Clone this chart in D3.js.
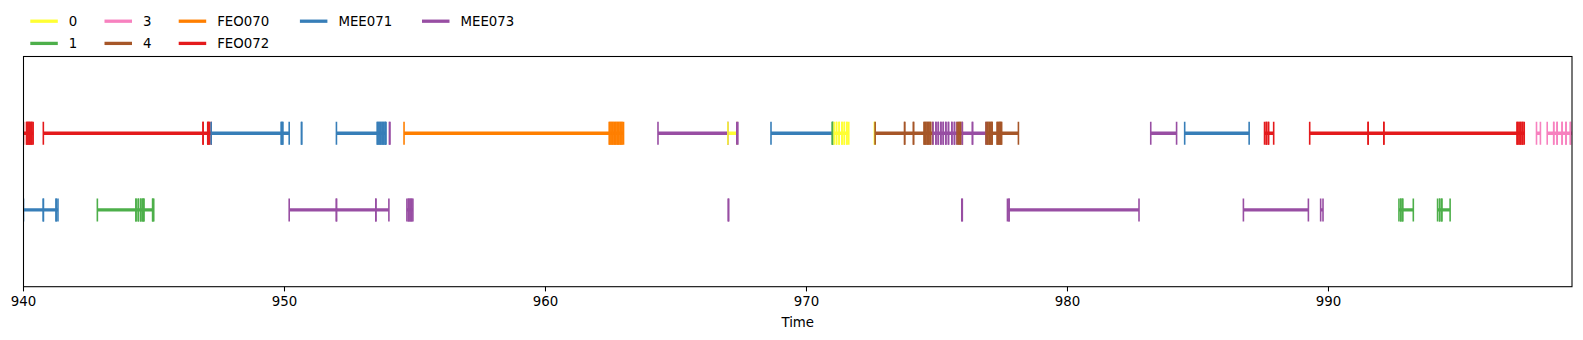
<!DOCTYPE html>
<html>
<head>
<meta charset="utf-8">
<script src="https://cdn.jsdelivr.net/npm/d3@7"></script>
<style>
  body { margin: 0; background: #fff; }
  text { font-family: "DejaVu Sans", sans-serif; fill: #000; }
</style>
</head>
<body>
<svg id="chart" width="1583" height="340"></svg>
<script>
// legend labels and their colours (Set1)
const labels = ["0", "1", "3", "4", "FEO070", "FEO072", "MEE071", "MEE073"];
const colors = ["#ffff33", "#4daf4a", "#f781bf", "#a65628", "#ff7f00", "#e41a1c", "#377eb8", "#984ea3"];

const xTicks = [940, 950, 960, 970, 980, 990];
const xDomain = [940, 999.33];

// row 1 (upper track): [start, end, label]
const topSegments = [
    [940.0, 940.12, "FEO072"], [940.12, 940.17, "FEO072"], [940.17, 940.22, "FEO072"],
    [940.22, 940.27, "FEO072"], [940.27, 940.32, "FEO072"], [940.32, 940.37, "FEO072"],
    [940.76, 946.88, "FEO072"], [946.88, 947.06, "FEO072"], [947.06, 947.11, "FEO072"],
    [947.11, 947.19, "FEO072"],
    [947.19, 949.88, "MEE071"], [949.88, 949.93, "MEE071"], [949.93, 950.18, "MEE071"],
    [950.65, 950.66, "MEE071"],
    [951.99, 953.56, "MEE071"], [953.56, 953.62, "MEE071"], [953.62, 953.68, "MEE071"],
    [953.68, 953.74, "MEE071"], [953.74, 953.8, "MEE071"], [953.8, 953.86, "MEE071"],
    [953.86, 953.89, "MEE071"],
    [954.02, 954.04, "MEE073"],
    [954.58, 962.45, "FEO070"], [962.45, 962.51, "FEO070"], [962.51, 962.57, "FEO070"],
    [962.57, 962.63, "FEO070"], [962.63, 962.69, "FEO070"], [962.69, 962.75, "FEO070"],
    [962.75, 962.81, "FEO070"], [962.81, 962.87, "FEO070"], [962.87, 962.93, "FEO070"],
    [962.93, 962.99, "FEO070"],
    [964.31, 966.99, "MEE073"],
    [966.99, 967.33, "0"],
    [967.33, 967.37, "MEE073"],
    [968.64, 971.0, "MEE071"],
    [970.99, 971.0, "1"],
    [971.06, 971.15, "0"], [971.15, 971.25, "0"], [971.25, 971.36, "0"],
    [971.36, 971.45, "0"], [971.45, 971.55, "0"], [971.55, 971.62, "0"],
    [972.6, 972.63, "0"],
    [972.63, 973.76, "4"], [973.76, 974.1, "4"], [974.1, 974.51, "4"], [974.51, 974.57, "4"],
    [974.57, 974.63, "4"], [974.63, 974.69, "4"], [974.69, 974.75, "4"], [974.75, 974.83, "4"],
    [974.85, 974.96, "MEE073"], [974.96, 975.05, "MEE073"], [975.05, 975.15, "MEE073"],
    [975.15, 975.24, "MEE073"], [975.24, 975.34, "MEE073"], [975.34, 975.44, "MEE073"],
    [975.44, 975.57, "MEE073"], [975.57, 975.67, "MEE073"], [975.67, 975.77, "MEE073"],
    [975.77, 975.84, "4"], [975.84, 975.9, "4"], [975.9, 975.97, "4"],
    [975.97, 976.36, "MEE073"], [976.36, 976.88, "MEE073"],
    [976.88, 976.94, "4"], [976.94, 977.0, "4"], [977.0, 977.06, "4"], [977.06, 977.11, "4"],
    [977.11, 977.31, "4"], [977.31, 977.37, "4"], [977.37, 977.42, "4"], [977.42, 977.47, "4"],
    [977.47, 978.12, "4"],
    [983.19, 984.18, "MEE073"],
    [984.49, 986.96, "MEE071"],
    [987.55, 987.62, "FEO072"], [987.62, 987.7, "FEO072"], [987.7, 987.9, "FEO072"],
    [989.28, 991.52, "FEO072"], [991.52, 992.12, "FEO072"], [992.12, 997.23, "FEO072"],
    [997.23, 997.3, "FEO072"], [997.3, 997.37, "FEO072"], [997.37, 997.44, "FEO072"],
    [997.44, 997.5, "FEO072"],
    [997.97, 998.12, "3"],
    [998.38, 998.63, "3"], [998.63, 998.76, "3"], [998.76, 998.95, "3"], [998.95, 999.1, "3"],
    [999.1, 999.27, "3"], [999.27, 999.5, "3"]
];

// row 0 (lower track)
const bottomSegments = [
    [940.0, 940.76, "MEE071"], [940.76, 941.25, "MEE071"], [941.25, 941.32, "MEE071"],
    [942.83, 944.31, "1"], [944.31, 944.4, "1"], [944.4, 944.49, "1"], [944.49, 944.56, "1"],
    [944.56, 944.61, "1"], [944.61, 944.95, "1"], [944.95, 944.99, "1"],
    [950.18, 951.99, "MEE073"], [951.99, 953.5, "MEE073"], [953.5, 954.0, "MEE073"],
    [954.69, 954.75, "MEE073"], [954.75, 954.81, "MEE073"], [954.81, 954.87, "MEE073"],
    [954.87, 954.92, "MEE073"],
    [967.0, 967.02, "MEE073"],
    [975.95, 975.97, "MEE073"],
    [977.7, 977.76, "MEE073"], [977.76, 982.74, "MEE073"],
    [986.74, 989.23, "MEE073"],
    [989.7, 989.79, "MEE073"],
    [992.7, 992.77, "1"], [992.77, 992.84, "1"], [992.84, 993.25, "1"],
    [994.18, 994.26, "1"], [994.26, 994.34, "1"], [994.34, 994.66, "1"]
];

const svg = d3.select("#chart");
const plotLeft = 23.5, plotRight = 1572, plotTop = 56.5, plotBottom = 286.7;

const x = d3.scaleLinear().domain(xDomain).range([plotLeft, plotRight]);
const y = d3.scaleLinear().domain([-1, 2]).range([plotBottom, plotTop]);
const color = d3.scaleOrdinal().domain(labels).range(colors);

svg.append("defs").append("clipPath").attr("id", "plotClip")
    .append("rect")
    .attr("x", plotLeft).attr("y", plotTop)
    .attr("width", plotRight - plotLeft).attr("height", plotBottom - plotTop);

const plot = svg.append("g").attr("clip-path", "url(#plotClip)");

function drawRow(segments, row) {
    const g = plot.append("g");
    g.selectAll(".seg")
        .data(segments)
        .enter()
        .append("line")
        .attr("class", "seg")
        .attr("x1", d => x(d[0]))
        .attr("x2", d => x(d[1]))
        .attr("y1", y(row))
        .attr("y2", y(row))
        .attr("stroke", d => color(d[2]))
        .attr("stroke-width", 3.3);

    // boundary marks at both ends of every segment
    const marks = [];
    segments.forEach(d => {
        marks.push([d[0], d[2]]);
        marks.push([d[1], d[2]]);
    });
    g.selectAll(".mark")
        .data(marks)
        .enter()
        .append("line")
        .attr("class", "mark")
        .attr("x1", d => x(d[0]))
        .attr("x2", d => x(d[0]))
        .attr("y1", y(row + 0.15))
        .attr("y2", y(row - 0.15))
        .attr("stroke", d => color(d[1]))
        .attr("stroke-width", 1.6);
}

drawRow(topSegments, 1);
drawRow(bottomSegments, 0);

// frame
svg.append("rect")
    .attr("x", plotLeft).attr("y", plotTop)
    .attr("width", plotRight - plotLeft).attr("height", plotBottom - plotTop)
    .attr("fill", "none")
    .attr("stroke", "#000")
    .attr("stroke-width", 1.07);

// x axis
const xAxis = svg.append("g");
xAxis.selectAll(".tick")
    .data(xTicks)
    .enter()
    .append("line")
    .attr("x1", d => x(d)).attr("x2", d => x(d))
    .attr("y1", plotBottom).attr("y2", plotBottom + 4.7)
    .attr("stroke", "#000")
    .attr("stroke-width", 1.07);

xAxis.selectAll(".lbl")
    .data(xTicks)
    .enter()
    .append("text")
    .attr("x", d => x(d))
    .attr("y", 301)
    .attr("dy", "0.35em")
    .attr("text-anchor", "middle")
    .attr("font-size", 13.33)
    .text(d => d);

svg.append("text")
    .attr("x", (plotLeft + plotRight) / 2)
    .attr("y", 322)
    .attr("dy", "0.35em")
    .attr("text-anchor", "middle")
    .attr("font-size", 13.33)
    .text("Time");

// legend: 5 columns, the last two hold a single entry each
const legendCols = [30.3, 104.5, 178.7, 299.9, 422];
const legendRows = [21.2, 43.4];
const legendSlots = [[0, 0], [0, 1], [1, 0], [1, 1], [2, 0], [2, 1], [3, 0], [4, 0]];
const legend = svg.append("g");
labels.forEach((lab, i) => {
    const cx = legendCols[legendSlots[i][0]];
    const cy = legendRows[legendSlots[i][1]];
    legend.append("line")
        .attr("x1", cx).attr("x2", cx + 27.5)
        .attr("y1", cy).attr("y2", cy)
        .attr("stroke", color(lab))
        .attr("stroke-width", 3.3);
    legend.append("text")
        .attr("x", cx + 38.5)
        .attr("y", cy)
        .attr("dy", "0.35em")
        .attr("font-size", 13.33)
        .text(lab);
});
</script>
</body>
</html>
